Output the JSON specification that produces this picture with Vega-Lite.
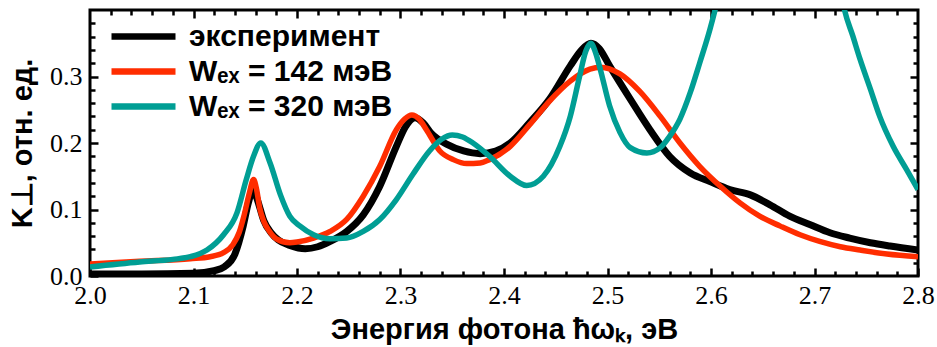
{
  "$schema": "https://vega.github.io/schema/vega-lite/v6.json",
  "width": 828,
  "height": 266,
  "autosize": {"type": "none"},
  "padding": {"left": 90, "top": 10, "right": 19, "bottom": 71},
  "background": "white",
  "config": {
    "view": {"stroke": "black", "strokeWidth": 3},
    "axis": {
      "domain": false, "grid": false, "tickColor": "black", "tickWidth": 2.5,
      "labelFont": "Liberation Serif", "labelFontSize": 26, "labelColor": "black",
      "titleFont": "Liberation Sans", "titleFontWeight": "bold", "titleFontSize": 29, "titleColor": "black",
      "labelFlush": false, "labelOverlap": false
    },
    "legend": {
      "labelFont": "Liberation Sans", "labelFontWeight": "bold", "labelFontSize": 30, "labelColor": "black",
      "labelLimit": 0,
      "symbolType": "M-2,0H2", "symbolStrokeWidth": 6.5, "symbolSize": 1024, "labelOffset": 26,
      "rowPadding": -2, "padding": 0
    }
  },
  "data": {"values": [
    {"s": "эксперимент", "e": 2.000, "k": 0.003},
    {"s": "эксперимент", "e": 2.050, "k": 0.003},
    {"s": "эксперимент", "e": 2.100, "k": 0.004},
    {"s": "эксперимент", "e": 2.120, "k": 0.008},
    {"s": "эксперимент", "e": 2.130, "k": 0.014},
    {"s": "эксперимент", "e": 2.140, "k": 0.033},
    {"s": "эксперимент", "e": 2.148, "k": 0.075},
    {"s": "эксперимент", "e": 2.153, "k": 0.110},
    {"s": "эксперимент", "e": 2.157, "k": 0.128},
    {"s": "эксперимент", "e": 2.160, "k": 0.122},
    {"s": "эксперимент", "e": 2.164, "k": 0.103},
    {"s": "эксперимент", "e": 2.168, "k": 0.083},
    {"s": "эксперимент", "e": 2.175, "k": 0.065},
    {"s": "эксперимент", "e": 2.182, "k": 0.054},
    {"s": "эксперимент", "e": 2.193, "k": 0.046},
    {"s": "эксперимент", "e": 2.208, "k": 0.041},
    {"s": "эксперимент", "e": 2.220, "k": 0.044},
    {"s": "эксперимент", "e": 2.232, "k": 0.052},
    {"s": "эксперимент", "e": 2.248, "k": 0.067},
    {"s": "эксперимент", "e": 2.264, "k": 0.092},
    {"s": "эксперимент", "e": 2.280, "k": 0.135},
    {"s": "эксперимент", "e": 2.296, "k": 0.195},
    {"s": "эксперимент", "e": 2.305, "k": 0.225},
    {"s": "эксперимент", "e": 2.314, "k": 0.238},
    {"s": "эксперимент", "e": 2.322, "k": 0.230},
    {"s": "эксперимент", "e": 2.330, "k": 0.214},
    {"s": "эксперимент", "e": 2.345, "k": 0.198},
    {"s": "эксперимент", "e": 2.361, "k": 0.188},
    {"s": "эксперимент", "e": 2.377, "k": 0.184},
    {"s": "эксперимент", "e": 2.392, "k": 0.188},
    {"s": "эксперимент", "e": 2.406, "k": 0.200},
    {"s": "эксперимент", "e": 2.425, "k": 0.231},
    {"s": "эксперимент", "e": 2.444, "k": 0.266},
    {"s": "эксперимент", "e": 2.464, "k": 0.316},
    {"s": "эксперимент", "e": 2.475, "k": 0.340},
    {"s": "эксперимент", "e": 2.484, "k": 0.350},
    {"s": "эксперимент", "e": 2.492, "k": 0.342},
    {"s": "эксперимент", "e": 2.502, "k": 0.316},
    {"s": "эксперимент", "e": 2.522, "k": 0.266},
    {"s": "эксперимент", "e": 2.541, "k": 0.220},
    {"s": "эксперимент", "e": 2.560, "k": 0.180},
    {"s": "эксперимент", "e": 2.580, "k": 0.155},
    {"s": "эксперимент", "e": 2.599, "k": 0.142},
    {"s": "эксперимент", "e": 2.618, "k": 0.130},
    {"s": "эксперимент", "e": 2.638, "k": 0.122},
    {"s": "эксперимент", "e": 2.657, "k": 0.107},
    {"s": "эксперимент", "e": 2.676, "k": 0.090},
    {"s": "эксперимент", "e": 2.696, "k": 0.077},
    {"s": "эксперимент", "e": 2.715, "k": 0.065},
    {"s": "эксперимент", "e": 2.734, "k": 0.057},
    {"s": "эксперимент", "e": 2.754, "k": 0.050},
    {"s": "эксперимент", "e": 2.773, "k": 0.045},
    {"s": "эксперимент", "e": 2.800, "k": 0.039},

    {"s": "Wₑₓ = 142 мэВ", "e": 2.000, "k": 0.018},
    {"s": "Wₑₓ = 142 мэВ", "e": 2.048, "k": 0.022},
    {"s": "Wₑₓ = 142 мэВ", "e": 2.097, "k": 0.026},
    {"s": "Wₑₓ = 142 мэВ", "e": 2.116, "k": 0.029},
    {"s": "Wₑₓ = 142 мэВ", "e": 2.129, "k": 0.035},
    {"s": "Wₑₓ = 142 мэВ", "e": 2.138, "k": 0.047},
    {"s": "Wₑₓ = 142 мэВ", "e": 2.144, "k": 0.065},
    {"s": "Wₑₓ = 142 мэВ", "e": 2.149, "k": 0.092},
    {"s": "Wₑₓ = 142 мэВ", "e": 2.154, "k": 0.125},
    {"s": "Wₑₓ = 142 мэВ", "e": 2.158, "k": 0.145},
    {"s": "Wₑₓ = 142 мэВ", "e": 2.161, "k": 0.130},
    {"s": "Wₑₓ = 142 мэВ", "e": 2.164, "k": 0.102},
    {"s": "Wₑₓ = 142 мэВ", "e": 2.168, "k": 0.082},
    {"s": "Wₑₓ = 142 мэВ", "e": 2.173, "k": 0.068},
    {"s": "Wₑₓ = 142 мэВ", "e": 2.180, "k": 0.056},
    {"s": "Wₑₓ = 142 мэВ", "e": 2.193, "k": 0.050},
    {"s": "Wₑₓ = 142 мэВ", "e": 2.200, "k": 0.051},
    {"s": "Wₑₓ = 142 мэВ", "e": 2.216, "k": 0.057},
    {"s": "Wₑₓ = 142 мэВ", "e": 2.232, "k": 0.067},
    {"s": "Wₑₓ = 142 мэВ", "e": 2.248, "k": 0.085},
    {"s": "Wₑₓ = 142 мэВ", "e": 2.264, "k": 0.120},
    {"s": "Wₑₓ = 142 мэВ", "e": 2.280, "k": 0.165},
    {"s": "Wₑₓ = 142 мэВ", "e": 2.296, "k": 0.220},
    {"s": "Wₑₓ = 142 мэВ", "e": 2.304, "k": 0.236},
    {"s": "Wₑₓ = 142 мэВ", "e": 2.311, "k": 0.242},
    {"s": "Wₑₓ = 142 мэВ", "e": 2.318, "k": 0.236},
    {"s": "Wₑₓ = 142 мэВ", "e": 2.325, "k": 0.220},
    {"s": "Wₑₓ = 142 мэВ", "e": 2.338, "k": 0.188},
    {"s": "Wₑₓ = 142 мэВ", "e": 2.351, "k": 0.175},
    {"s": "Wₑₓ = 142 мэВ", "e": 2.364, "k": 0.169},
    {"s": "Wₑₓ = 142 мэВ", "e": 2.377, "k": 0.170},
    {"s": "Wₑₓ = 142 мэВ", "e": 2.386, "k": 0.175},
    {"s": "Wₑₓ = 142 мэВ", "e": 2.406, "k": 0.195},
    {"s": "Wₑₓ = 142 мэВ", "e": 2.425, "k": 0.228},
    {"s": "Wₑₓ = 142 мэВ", "e": 2.444, "k": 0.263},
    {"s": "Wₑₓ = 142 мэВ", "e": 2.464, "k": 0.293},
    {"s": "Wₑₓ = 142 мэВ", "e": 2.483, "k": 0.311},
    {"s": "Wₑₓ = 142 мэВ", "e": 2.493, "k": 0.314},
    {"s": "Wₑₓ = 142 мэВ", "e": 2.512, "k": 0.304},
    {"s": "Wₑₓ = 142 мэВ", "e": 2.531, "k": 0.278},
    {"s": "Wₑₓ = 142 мэВ", "e": 2.551, "k": 0.240},
    {"s": "Wₑₓ = 142 мэВ", "e": 2.570, "k": 0.200},
    {"s": "Wₑₓ = 142 мэВ", "e": 2.589, "k": 0.165},
    {"s": "Wₑₓ = 142 мэВ", "e": 2.609, "k": 0.135},
    {"s": "Wₑₓ = 142 мэВ", "e": 2.628, "k": 0.110},
    {"s": "Wₑₓ = 142 мэВ", "e": 2.647, "k": 0.090},
    {"s": "Wₑₓ = 142 мэВ", "e": 2.667, "k": 0.075},
    {"s": "Wₑₓ = 142 мэВ", "e": 2.686, "k": 0.062},
    {"s": "Wₑₓ = 142 мэВ", "e": 2.705, "k": 0.052},
    {"s": "Wₑₓ = 142 мэВ", "e": 2.725, "k": 0.044},
    {"s": "Wₑₓ = 142 мэВ", "e": 2.744, "k": 0.039},
    {"s": "Wₑₓ = 142 мэВ", "e": 2.770, "k": 0.033},
    {"s": "Wₑₓ = 142 мэВ", "e": 2.800, "k": 0.029},

    {"s": "Wₑₓ = 320 мэВ", "e": 2.000, "k": 0.0135},
    {"s": "Wₑₓ = 320 мэВ", "e": 2.048, "k": 0.021},
    {"s": "Wₑₓ = 320 мэВ", "e": 2.080, "k": 0.025},
    {"s": "Wₑₓ = 320 мэВ", "e": 2.097, "k": 0.029},
    {"s": "Wₑₓ = 320 мэВ", "e": 2.113, "k": 0.039},
    {"s": "Wₑₓ = 320 мэВ", "e": 2.129, "k": 0.062},
    {"s": "Wₑₓ = 320 мэВ", "e": 2.142, "k": 0.095},
    {"s": "Wₑₓ = 320 мэВ", "e": 2.151, "k": 0.145},
    {"s": "Wₑₓ = 320 мэВ", "e": 2.158, "k": 0.180},
    {"s": "Wₑₓ = 320 мэВ", "e": 2.165, "k": 0.200},
    {"s": "Wₑₓ = 320 мэВ", "e": 2.174, "k": 0.170},
    {"s": "Wₑₓ = 320 мэВ", "e": 2.184, "k": 0.122},
    {"s": "Wₑₓ = 320 мэВ", "e": 2.193, "k": 0.090},
    {"s": "Wₑₓ = 320 мэВ", "e": 2.203, "k": 0.075},
    {"s": "Wₑₓ = 320 мэВ", "e": 2.216, "k": 0.062},
    {"s": "Wₑₓ = 320 мэВ", "e": 2.232, "k": 0.056},
    {"s": "Wₑₓ = 320 мэВ", "e": 2.248, "k": 0.057},
    {"s": "Wₑₓ = 320 мэВ", "e": 2.264, "k": 0.067},
    {"s": "Wₑₓ = 320 мэВ", "e": 2.280, "k": 0.085},
    {"s": "Wₑₓ = 320 мэВ", "e": 2.296, "k": 0.115},
    {"s": "Wₑₓ = 320 мэВ", "e": 2.312, "k": 0.153},
    {"s": "Wₑₓ = 320 мэВ", "e": 2.328, "k": 0.188},
    {"s": "Wₑₓ = 320 мэВ", "e": 2.340, "k": 0.206},
    {"s": "Wₑₓ = 320 мэВ", "e": 2.350, "k": 0.212},
    {"s": "Wₑₓ = 320 мэВ", "e": 2.360, "k": 0.209},
    {"s": "Wₑₓ = 320 мэВ", "e": 2.370, "k": 0.200},
    {"s": "Wₑₓ = 320 мэВ", "e": 2.386, "k": 0.180},
    {"s": "Wₑₓ = 320 мэВ", "e": 2.406, "k": 0.150},
    {"s": "Wₑₓ = 320 мэВ", "e": 2.422, "k": 0.136},
    {"s": "Wₑₓ = 320 мэВ", "e": 2.438, "k": 0.150},
    {"s": "Wₑₓ = 320 мэВ", "e": 2.454, "k": 0.195},
    {"s": "Wₑₓ = 320 мэВ", "e": 2.464, "k": 0.240},
    {"s": "Wₑₓ = 320 мэВ", "e": 2.473, "k": 0.300},
    {"s": "Wₑₓ = 320 мэВ", "e": 2.479, "k": 0.338},
    {"s": "Wₑₓ = 320 мэВ", "e": 2.484, "k": 0.350},
    {"s": "Wₑₓ = 320 мэВ", "e": 2.488, "k": 0.338},
    {"s": "Wₑₓ = 320 мэВ", "e": 2.493, "k": 0.311},
    {"s": "Wₑₓ = 320 мэВ", "e": 2.502, "k": 0.256},
    {"s": "Wₑₓ = 320 мэВ", "e": 2.512, "k": 0.216},
    {"s": "Wₑₓ = 320 мэВ", "e": 2.522, "k": 0.193},
    {"s": "Wₑₓ = 320 мэВ", "e": 2.538, "k": 0.185},
    {"s": "Wₑₓ = 320 мэВ", "e": 2.551, "k": 0.193},
    {"s": "Wₑₓ = 320 мэВ", "e": 2.560, "k": 0.210},
    {"s": "Wₑₓ = 320 мэВ", "e": 2.570, "k": 0.236},
    {"s": "Wₑₓ = 320 мэВ", "e": 2.580, "k": 0.276},
    {"s": "Wₑₓ = 320 мэВ", "e": 2.589, "k": 0.320},
    {"s": "Wₑₓ = 320 мэВ", "e": 2.599, "k": 0.371},
    {"s": "Wₑₓ = 320 мэВ", "e": 2.607, "k": 0.420},
    {"s": "Wₑₓ = 320 мэВ", "e": 2.615, "k": 0.480},
    {"s": "Wₑₓ = 320 мэВ", "e": 2.720, "k": 0.480},
    {"s": "Wₑₓ = 320 мэВ", "e": 2.729, "k": 0.400},
    {"s": "Wₑₓ = 320 мэВ", "e": 2.737, "k": 0.361},
    {"s": "Wₑₓ = 320 мэВ", "e": 2.744, "k": 0.326},
    {"s": "Wₑₓ = 320 мэВ", "e": 2.754, "k": 0.281},
    {"s": "Wₑₓ = 320 мэВ", "e": 2.763, "k": 0.240},
    {"s": "Wₑₓ = 320 мэВ", "e": 2.776, "k": 0.195},
    {"s": "Wₑₓ = 320 мэВ", "e": 2.789, "k": 0.160},
    {"s": "Wₑₓ = 320 мэВ", "e": 2.800, "k": 0.130}
  ]},
  "layer": [
    {
      "transform": [{"filter": "datum.s === 'эксперимент'"}],
      "mark": {"type": "line", "strokeWidth": 7, "interpolate": "monotone", "clip": true},
      "encoding": {
        "x": {"field": "e", "type": "quantitative", "scale": {"domain": [2.0, 2.8], "nice": false, "zero": false},
          "axis": {"orient": "bottom", "values": [2.0, 2.1, 2.2, 2.3, 2.4, 2.5, 2.6, 2.7, 2.8], "format": ".1f",
            "tickSize": -8, "labelPadding": 14, "title": "Энергия фотона ħωₖ, эВ", "titlePadding": 7}},
        "y": {"field": "k", "type": "quantitative", "scale": {"domain": [0, 0.4], "nice": false},
          "axis": {"orient": "left", "values": [0, 0.1, 0.2, 0.3], "format": ".1f",
            "tickSize": -8, "labelPadding": 16, "title": "K⊥, отн. ед.", "titlePadding": 12}},
        "color": {"field": "s", "type": "nominal",
          "scale": {"domain": ["эксперимент", "Wₑₓ = 142 мэВ", "Wₑₓ = 320 мэВ"], "range": ["#000000", "#FF2D00", "#009E94"]},
          "legend": {"title": null, "orient": "none", "legendX": 34, "legendY": 7}}
      }
    },
    {
      "transform": [{"filter": "datum.s === 'Wₑₓ = 142 мэВ'"}],
      "mark": {"type": "line", "strokeWidth": 5.5, "interpolate": "monotone", "clip": true},
      "encoding": {
        "x": {"field": "e", "type": "quantitative",
          "axis": {"orient": "top", "values": [2.1, 2.2, 2.3, 2.4, 2.5, 2.6, 2.7], "labels": false, "tickSize": -8, "title": null}},
        "y": {"field": "k", "type": "quantitative",
          "axis": {"orient": "right", "values": [0.1, 0.2, 0.3], "labels": false, "tickSize": -8, "title": null}},
        "color": {"field": "s", "type": "nominal"}
      }
    },
    {
      "transform": [{"filter": "datum.s === 'Wₑₓ = 320 мэВ'"}],
      "mark": {"type": "line", "strokeWidth": 5.5, "interpolate": "monotone", "clip": true},
      "encoding": {
        "x": {"field": "e", "type": "quantitative",
          "axis": {"orient": "bottom", "values": [2.02, 2.04, 2.06, 2.08, 2.12, 2.14, 2.16, 2.18, 2.22, 2.24, 2.26, 2.28, 2.32, 2.34, 2.36, 2.38, 2.42, 2.44, 2.46, 2.48, 2.52, 2.54, 2.56, 2.58, 2.62, 2.64, 2.66, 2.68, 2.72, 2.74, 2.76, 2.78], "labels": false, "tickSize": -5, "title": null}},
        "y": {"field": "k", "type": "quantitative",
          "axis": {"orient": "left", "values": [0.02, 0.04, 0.06, 0.08, 0.12, 0.14, 0.16, 0.18, 0.22, 0.24, 0.26, 0.28, 0.32, 0.34, 0.36, 0.38], "labels": false, "tickSize": -5, "title": null}},
        "color": {"field": "s", "type": "nominal"}
      }
    },
    {
      "transform": [{"filter": "datum.s === 'Wₑₓ = 320 мэВ'"}],
      "mark": {"type": "line", "strokeOpacity": 0, "clip": true},
      "encoding": {
        "x": {"field": "e", "type": "quantitative",
          "axis": {"orient": "top", "values": [2.02, 2.04, 2.06, 2.08, 2.12, 2.14, 2.16, 2.18, 2.22, 2.24, 2.26, 2.28, 2.32, 2.34, 2.36, 2.38, 2.42, 2.44, 2.46, 2.48, 2.52, 2.54, 2.56, 2.58, 2.62, 2.64, 2.66, 2.68, 2.72, 2.74, 2.76, 2.78], "labels": false, "tickSize": -5, "title": null}},
        "y": {"field": "k", "type": "quantitative",
          "axis": {"orient": "right", "values": [0.02, 0.04, 0.06, 0.08, 0.12, 0.14, 0.16, 0.18, 0.22, 0.24, 0.26, 0.28, 0.32, 0.34, 0.36, 0.38], "labels": false, "tickSize": -5, "title": null}}
      }
    }
  ],
  "resolve": {"axis": {"x": "independent", "y": "independent"}}
}
